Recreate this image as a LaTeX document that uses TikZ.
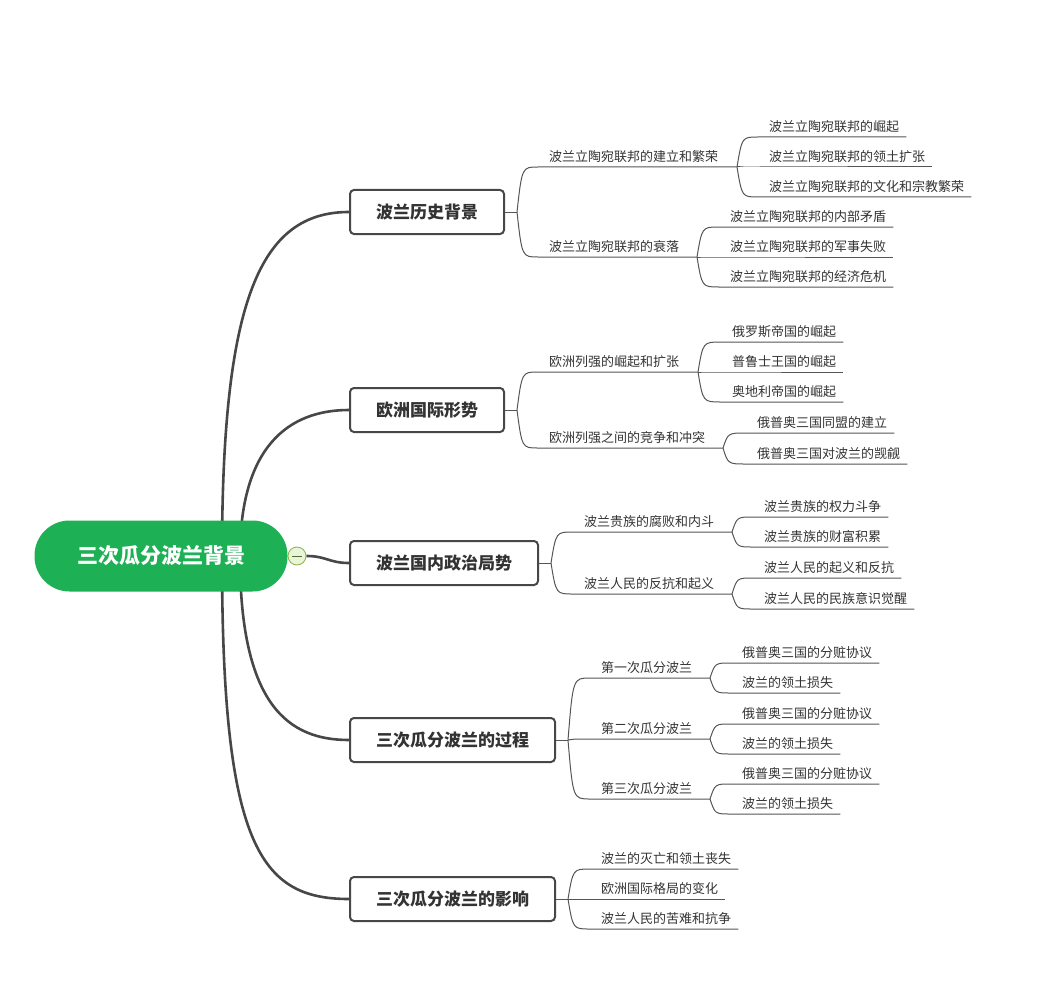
\documentclass[tikz,border=0pt]{standalone}
\usepackage{fontspec}
\setmainfont{Noto Sans CJK SC}
\usetikzlibrary{calc,backgrounds}

\definecolor{rootgreen}{HTML}{1DB054}
\definecolor{foldfill}{HTML}{E9F5D8}
\definecolor{folddraw}{HTML}{8DB247}
\definecolor{inkgray}{HTML}{333333}
\definecolor{trunkgray}{HTML}{474747}
\definecolor{twiggray}{HTML}{555555}

% thin branch: from a fork, bend into the underline of a text node, run to #3
\newcommand\twig[3]{%
  \draw[twig] (#1) .. controls ($(#1 |- #2.south west)+(5,0)$)
    .. ($(#2.south west)+(-11,0)$) -- (#3);}
\newcommand\leafline[2]{\twig{#1}{#2}{$(#2.south east)+(7,0)$}}

\begin{document}
\begin{tikzpicture}[x=1pt, y=-1pt,
  root/.style={fill=rootgreen, text=white, rounded corners=35pt,
    minimum width=253pt, minimum height=71pt,
    font=\fontsize{21}{24}\selectfont\bfseries},
  fold/.style={circle, draw=folddraw, fill=foldfill, line width=0.8pt,
    minimum size=18pt, inner sep=0pt},
  topic/.style={draw=trunkgray, line width=2pt, rounded corners=4pt, fill=white,
    anchor=west, inner xsep=26pt, minimum height=44pt, text=inkgray,
    font=\fontsize{17}{20}\selectfont\bfseries},
  sub/.style={anchor=south west, inner xsep=0pt, inner ysep=4.5pt, text=inkgray,
    font=\fontsize{13}{15}\selectfont},
  trunk/.style={draw=trunkgray, line width=2.6pt},
  twig/.style={draw=twiggray, line width=1pt}]

\useasboundingbox (0,0) rectangle (1038,995);

% ── ROOT (pill 35..288 × 520..591) ──────────────────────────────────────
\node[root] (root) at (161,556) {三次瓜分波兰背景};
\node[fold] (fold) at (297,556) {};
\draw[folddraw!60!black, line width=0.8pt]
  ([xshift=-5pt]fold.center) -- ([xshift=5pt]fold.center);
\coordinate (hubL) at (222,556);
\coordinate (hubR) at (240,556);

% ── TOPICS (left edge x=349) ─────────────────────────────────────────────
\node[topic] (h) at (349,212) {波兰历史背景};
\node[topic] (e) at (349,410) {欧洲国际形势};
\node[topic] (d) at (349,563) {波兰国内政治局势};
\node[topic] (p) at (349,740) {三次瓜分波兰的过程};
\node[topic] (m) at (349,899) {三次瓜分波兰的影响};

\coordinate (h-fork) at ($(h.east)+(12,0)$);
\coordinate (e-fork) at ($(e.east)+(12,0)$);
\coordinate (d-fork) at ($(d.east)+(12,0)$);
\coordinate (p-fork) at ($(p.east)+(12,0)$);
\coordinate (m-fork) at ($(m.east)+(12,0)$);

% ── TRUNKS (behind the pill) ─────────────────────────────────────────────
\begin{pgfonlayer}{background}
\draw[trunk] (hubL) .. controls +(0,-256) and +(-89,0) .. (h.west);
\draw[trunk] (hubR) .. controls +(0,-110) and +(-60,0) .. (e.west);
\draw[trunk] (fold.east) .. controls +(20,0) and +(-20,0) .. (d.west);
\draw[trunk] (hubR) .. controls +(0,150) and +(-60,0) .. (p.west);
\draw[trunk] (hubL) .. controls +(0,290) and +(-89,0) .. (m.west);
\end{pgfonlayer}

% ── 波兰历史背景 ─────────────────────────────────────────────────────────
\node[sub] (h1) at (549,167) {波兰立陶宛联邦的建立和繁荣};
\node[sub] (h2) at (549,257) {波兰立陶宛联邦的衰落};
\coordinate (h1-fork) at (737,167);
\coordinate (h2-fork) at (697,257);

\node[sub] (h11) at (769,137) {波兰立陶宛联邦的崛起};
\node[sub] (h12) at (769,167) {波兰立陶宛联邦的领土扩张};
\node[sub] (h13) at (769,197) {波兰立陶宛联邦的文化和宗教繁荣};
\node[sub] (h21) at (730,227) {波兰立陶宛联邦的内部矛盾};
\node[sub] (h22) at (730,257) {波兰立陶宛联邦的军事失败};
\node[sub] (h23) at (730,287) {波兰立陶宛联邦的经济危机};

% ── 欧洲国际形势 ─────────────────────────────────────────────────────────
\node[sub] (e1) at (549,372) {欧洲列强的崛起和扩张};
\node[sub] (e2) at (549,448) {欧洲列强之间的竞争和冲突};
\coordinate (e1-fork) at (698,372);
\coordinate (e2-fork) at (723,448);

\node[sub] (e11) at (732,342) {俄罗斯帝国的崛起};
\node[sub] (e12) at (732,372) {普鲁士王国的崛起};
\node[sub] (e13) at (732,402) {奥地利帝国的崛起};
\node[sub] (e21) at (757,433) {俄普奥三国同盟的建立};
\node[sub] (e22) at (757,464) {俄普奥三国对波兰的觊觎};

% ── 波兰国内政治局势 ─────────────────────────────────────────────────────
\node[sub] (d1) at (584,532) {波兰贵族的腐败和内斗};
\node[sub] (d2) at (584,594) {波兰人民的反抗和起义};
\coordinate (d1-fork) at (732,532);
\coordinate (d2-fork) at (732,594);

\node[sub] (d11) at (764,517) {波兰贵族的权力斗争};
\node[sub] (d12) at (764,547) {波兰贵族的财富积累};
\node[sub] (d21) at (764,578) {波兰人民的起义和反抗};
\node[sub] (d22) at (764,609) {波兰人民的民族意识觉醒};

% ── 三次瓜分波兰的过程 ───────────────────────────────────────────────────
\node[sub] (p1) at (601,678) {第一次瓜分波兰};
\node[sub] (p2) at (601,739) {第二次瓜分波兰};
\node[sub] (p3) at (601,799) {第三次瓜分波兰};
\coordinate (p1-fork) at (710,678);
\coordinate (p2-fork) at (710,739);
\coordinate (p3-fork) at (710,799);

\node[sub] (p11) at (742,663) {俄普奥三国的分赃协议};
\node[sub] (p12) at (742,693) {波兰的领土损失};
\node[sub] (p21) at (742,724) {俄普奥三国的分赃协议};
\node[sub] (p22) at (742,754) {波兰的领土损失};
\node[sub] (p31) at (742,784) {俄普奥三国的分赃协议};
\node[sub] (p32) at (742,814) {波兰的领土损失};

% ── 三次瓜分波兰的影响 ───────────────────────────────────────────────────
\node[sub] (m1) at (601,869) {波兰的灭亡和领土丧失};
\node[sub] (m2) at (601,899) {欧洲国际格局的变化};
\node[sub] (m3) at (601,929) {波兰人民的苦难和抗争};

% ── TWIGS ────────────────────────────────────────────────────────────────
\draw[twig] (h.east) -- (h-fork);
\draw[twig] (e.east) -- (e-fork);
\draw[twig] (d.east) -- (d-fork);
\draw[twig] (p.east) -- (p-fork);
\draw[twig] (m.east) -- (m-fork);

\twig{h-fork}{h1}{h1-fork}
\twig{h-fork}{h2}{h2-fork}
\leafline{h1-fork}{h11}
\leafline{h1-fork}{h12}
\leafline{h1-fork}{h13}
\leafline{h2-fork}{h21}
\leafline{h2-fork}{h22}
\leafline{h2-fork}{h23}

\twig{e-fork}{e1}{e1-fork}
\twig{e-fork}{e2}{e2-fork}
\leafline{e1-fork}{e11}
\leafline{e1-fork}{e12}
\leafline{e1-fork}{e13}
\leafline{e2-fork}{e21}
\leafline{e2-fork}{e22}

\twig{d-fork}{d1}{d1-fork}
\twig{d-fork}{d2}{d2-fork}
\leafline{d1-fork}{d11}
\leafline{d1-fork}{d12}
\leafline{d2-fork}{d21}
\leafline{d2-fork}{d22}

\twig{p-fork}{p1}{p1-fork}
\twig{p-fork}{p2}{p2-fork}
\twig{p-fork}{p3}{p3-fork}
\leafline{p1-fork}{p11}
\leafline{p1-fork}{p12}
\leafline{p2-fork}{p21}
\leafline{p2-fork}{p22}
\leafline{p3-fork}{p31}
\leafline{p3-fork}{p32}

\leafline{m-fork}{m1}
\leafline{m-fork}{m2}
\leafline{m-fork}{m3}

\end{tikzpicture}
\end{document}
